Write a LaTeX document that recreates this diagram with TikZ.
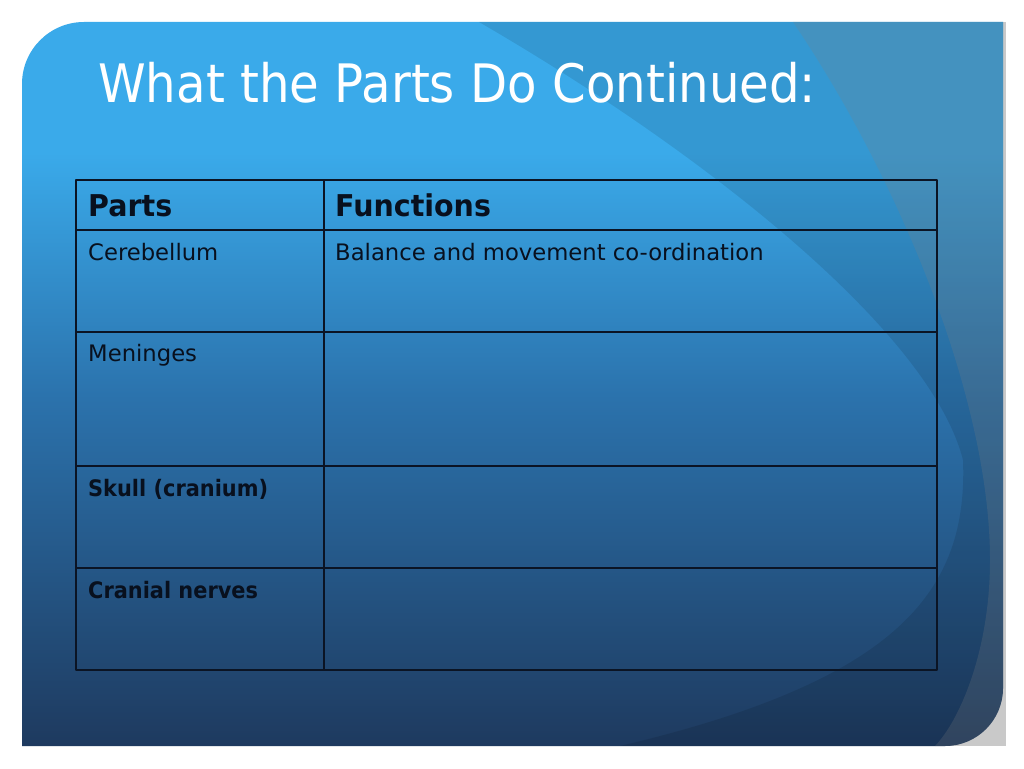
\documentclass[tikz,border=0pt]{standalone}
\usepackage{fontspec}
\setmainfont{DejaVu Sans}[BoldFeatures={FakeStretch=0.92}]
\newfontfamily\titlefont{DejaVu Sans}[FakeStretch=0.91]
\newfontfamily\headfont{DejaVu Sans}[BoldFeatures={FakeStretch=0.95}]
\definecolor{slidetop}{HTML}{3AAAEA}
\definecolor{slidemid}{HTML}{2B72AC}
\definecolor{slidebot}{HTML}{1E3A5F}
\definecolor{gridline}{HTML}{0B1424}
\definecolor{celltext}{HTML}{08101E}
\pgfdeclareverticalshading{panelshade}{100bp}{color(0bp)=(slidebot); color(25bp)=(slidebot); color(49bp)=(slidemid); color(66bp)=(slidetop); color(100bp)=(slidetop)}
\begin{document}
\begin{tikzpicture}[x=1pt,y=-1pt, line join=round,
	rule/.style={draw=gridline, line width=1.4pt},
	head/.style={anchor=base west, inner sep=0, text=celltext, font=\headfont\bfseries\fontsize{30}{33}\selectfont},
	cell/.style={anchor=base west, inner sep=0, text=celltext, font=\fontsize{22.7}{26}\selectfont}]
	\def\L{22} \def\R{1003} \def\T{22} \def\B{746} % khung
	\def\tl{76} \def\tr{937} \def\tc{324}
	\def\panelpath{(\L,\B) -- (\L,84) arc[start angle=180, end angle=270, radius=62] -- (\R,\T) -- (\R,688) arc[start angle=0, end angle=90, radius=58] -- cycle}
	\useasboundingbox (0,0) rectangle (1024,768);
	\fill[white] (0,0) rectangle (1024,768);
	\fill[black!21] (900,\T) rectangle (1006,\B);
	\shade[shading=panelshade] \panelpath;
	\begin{scope}
		\clip \panelpath;
		\fill[black, opacity=0.1] (479,22) .. controls (700,150) and (930,330) .. (963,460) .. controls (968,590) and (900,680) .. (620,746) -- (1024,768) -- (1024,0) -- cycle;
		\fill[gray, opacity=0.22] (793,22) .. controls (900,180) and (990,400) .. (990,560) .. controls (990,650) and (960,720) .. (935,746) -- (1024,768) -- (1024,0) -- cycle;
	\end{scope}
	\node[anchor=base west, inner sep=0, text=white, font=\titlefont\fontsize{53}{60}\selectfont] (title) at (98,102) {What the Parts Do Continued:};
	\draw[rule] (\tl,180) rectangle (\tr,670) (\tc,180) -- (\tc,670);
	\foreach \y in {230,332,466,568}
	\draw[rule] (\tl,\y) -- (\tr,\y);
	\node[head] (parts) at (88,216) {Parts};
	\node[head] (functions) at (335,216) {Functions};
	\foreach \n/\y/\t in {cerebellum/260/Cerebellum, meninges/361/Meninges, skull/496/\textbf{Skull (cranium)}, nerves/598/\textbf{Cranial nerves}}
	\node[cell] (\n) at (88,\y) {\t};
	\node[cell] (balance) at (335,260) {Balance and movement co-ordination};
\end{tikzpicture}
\end{document}
